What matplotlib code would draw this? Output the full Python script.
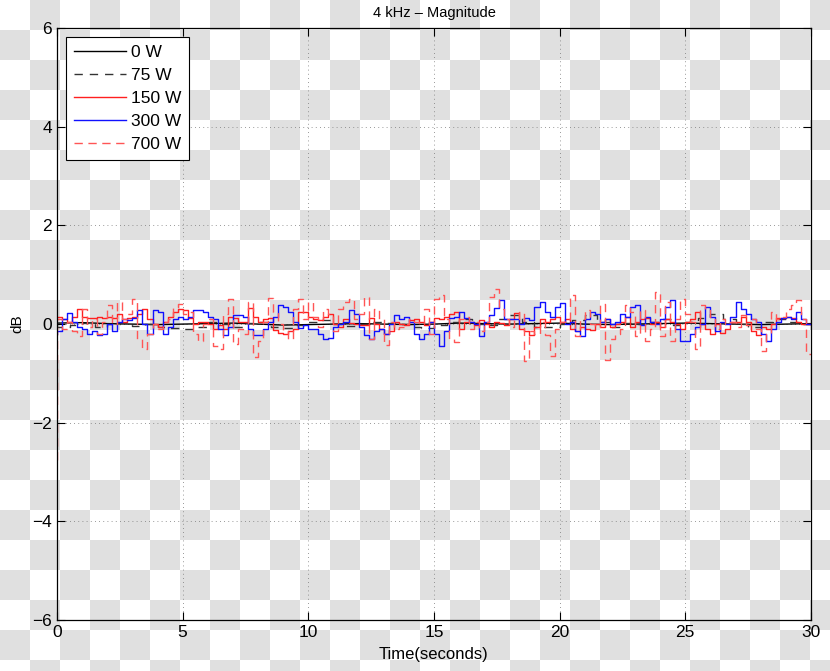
import numpy as np
import matplotlib
matplotlib.use("Agg")
import matplotlib.pyplot as plt

plt.rcParams['font.family'] = ['Liberation Sans', 'DejaVu Sans']

# time bases (seconds)
t_fine = np.round(np.arange(0, 30.01, 0.2), 2)    # 151 samples
t_half = np.round(np.arange(0, 30.01, 0.5), 2)    # 61 samples
t_one = np.arange(0, 31, 1.0)                     # 31 samples

# dB values
w0 = [0.02, 0.03, 0.01, 0.0, -0.01, 0.0, 0.01, 0.02, 0.0, -0.02, -0.01, 0.0, 0.01, 0.0, -0.01, 0.0,
      0.02, 0.01, 0.0, 0.01, 0.02, 0.0, -0.01, 0.0, 0.01, 0.02, 0.01, 0.0, -0.01, 0.0, 0.01]

w75 = [0.0, -0.05, -0.02, 0.03, -0.05, 0.0, 0.02, -0.03, 0.0, -0.05, -0.08, -0.1, -0.05, 0.05, 0.0, -0.05,
       0.02, 0.05, -0.05, -0.08, -0.02, 0.05, 0.08, 0.0, -0.03, 0.0, 0.05, 0.03, 0.0, -0.05, -0.08,
       -0.02, 0.05, 0.1, 0.0, -0.02, 0.1, 0.18, 0.05, -0.05, -0.05, 0.0, 0.08, 0.18, 0.05, -0.05,
       0.02, 0.0, 0.05, 0.1, -0.02, 0.05, 0.12, 0.2, 0.1, 0.0, -0.05, 0.05, 0.1, 0.05, 0.0]

w150 = [0.15, 0.15, 0.1, 0.05, 0.15, 0.3, 0.15, 0.12, 0.12, 0.15, 0.12, 0.15, 0.12, 0.2, 0.05, 0.12,
        0.15, 0.2, 0.3, 0.1, 0.0, -0.05, 0.05, 0.15, 0.25, 0.3,
        0.28, 0.12, 0.0, 0.05, 0.05, 0.0, -0.1, -0.02, -0.1, 0.15, 0.12, 0.05, 0.05, 0.32, 0.15,
        0.05, 0.1, 0.12, -0.12, -0.19, -0.2, -0.15, -0.1, 0.25, 0.25,
        0.15, 0.1, 0.08, 0.15, 0.2, 0.0, -0.05, 0.1, 0.02, 0.0, -0.02, -0.02, 0.12, 0.0, -0.1,
        -0.2, -0.15, 0.05, 0.0, -0.02, 0.08, 0.1, 0.05, -0.02, 0.05,
        0.12, 0.1, 0.15, 0.2, 0.25, -0.1, 0.05, 0.05, -0.02, 0.08, 0.0, -0.05, 0.05, 0.02, -0.02,
        0.1, 0.22, -0.1, -0.15, -0.22, -0.05, 0.1, 0.05, 0.1, 0.15,
        0.05, 0.1, -0.1, -0.15, -0.05, -0.1, -0.12, 0.0, -0.05, 0.1, -0.05, 0.0, 0.05, 0.15, -0.05,
        0.05, 0.1, 0.12, 0.0, 0.05, -0.05, 0.1, 0.05, 0.0, -0.1,
        0.05, 0.1, 0.25, 0.0, -0.1, -0.2, 0.0, -0.18, -0.1, 0.05, 0.05, 0.15, 0.05, -0.15, -0.22,
        -0.05, -0.1, 0.0, 0.12, 0.12, 0.15, 0.12, 0.05, 0.0, 0.0]

w300 = [-0.2, -0.15, 0.1, 0.22, 0.05, -0.05, -0.1, -0.2, -0.15, -0.22, -0.2, 0.0, -0.15, 0.05, 0.1,
        0.08, 0.12, 0.28, 0.0, -0.2, 0.28, 0.25, -0.2, -0.05, 0.1, 0.15,
        0.1, 0.15, 0.28, 0.28, 0.25, 0.15, 0.1, -0.1, -0.22, -0.05, 0.18, 0.18, 0.15, -0.1, -0.22,
        -0.22, -0.1, 0.05, 0.15, 0.38, 0.35, 0.25, 0.05, -0.08, -0.02,
        -0.1, -0.1, -0.2, -0.3, -0.28, -0.05, 0.0, 0.05, 0.28, 0.2, -0.05, -0.22, -0.3, -0.15, -0.1,
        -0.2, 0.0, 0.18, 0.1, 0.15, 0.05, -0.2, -0.3, -0.2, 0.05,
        -0.2, -0.45, -0.15, 0.12, 0.15, 0.25, 0.12, 0.05, 0.0, -0.25, 0.05, 0.18, 0.32, 0.48, 0.1,
        0.1, 0.1, 0.0, 0.12, 0.08, 0.35, 0.45, 0.25, 0.15, 0.35,
        0.42, 0.0, 0.05, -0.15, -0.25, 0.1, 0.25, 0.2, 0.05, 0.1, 0.0, 0.05, 0.2, 0.15, 0.35,
        0.38, -0.02, 0.15, 0.05, 0.0, 0.1, 0.35, 0.48, -0.1, -0.35,
        -0.35, -0.2, -0.05, 0.0, 0.35, 0.15, -0.15, 0.05, 0.0, 0.15, 0.45, 0.3, 0.2, 0.1, 0.05,
        -0.2, -0.35, -0.1, 0.05, 0.12, 0.15, 0.1, 0.25, 0.1, 0.0]

w700 = [-2.75, 0.1, -0.1, 0.05, -0.15, -0.25, 0.3, -0.05, 0.1, -0.2, 0.05, 0.38, 0.0, 0.45, 0.1,
        0.2, 0.5, -0.3, -0.5, -0.2, 0.0, -0.1, 0.05, 0.1, 0.35, 0.4,
        0.2, 0.25, -0.2, -0.35, 0.0, 0.1, -0.45, -0.5, 0.2, 0.5, -0.4, -0.1, -0.2, 0.45, -0.66,
        -0.35, 0.05, 0.52, 0.25, 0.0, -0.15, -0.3, 0.3, 0.5, 0.1,
        0.45, 0.15, -0.05, 0.3, 0.2, -0.15, 0.3, 0.45, 0.5, 0.1, 0.2, 0.55, -0.3, 0.3, 0.1,
        -0.43, 0.05, -0.1, -0.05, 0.0, 0.1, 0.05, 0.0, 0.3, -0.2,
        0.5, 0.6, 0.1, -0.3, -0.36, 0.1, 0.15, -0.1, 0.05, -0.15, 0.05, 0.55, 0.72, 0.3, 0.1,
        -0.05, 0.1, 0.25, -0.75, -0.15, -0.2, 0.05, -0.22, -0.65, -0.1,
        0.05, 0.1, 0.58, -0.25, 0.1, 0.28, 0.0, -0.05, 0.4, -0.72, -0.3, -0.2, -0.1, 0.38, 0.25,
        -0.25, 0.28, -0.35, -0.1, 0.65, -0.25, 0.45, -0.35, 0.1, 0.5,
        0.2, 0.05, -0.5, 0.38, 0.3, 0.15, -0.1, 0.1, 0.0, 0.05, -0.05, 0.18, -0.02, 0.1, -0.1,
        -0.55, -0.2, 0.25, 0.1, 0.15, 0.3, 0.38, 0.48, 0.1, -0.6]

fig = plt.figure(figsize=(8.3, 6.71), dpi=100)

# checkered "transparent" backdrop seen in the reference
yy, xx = np.mgrid[0:671, 0:830]
checker = np.where(((yy // 30) + (xx // 30)) % 2 == 0, 1.0, 0.88)
fig.figimage(np.dstack([checker] * 3), xo=0, yo=0, origin='upper', zorder=-5)

ax = fig.add_axes([0.0687, 0.076, 0.9083, 0.882])
ax.set_facecolor('none')
ax.set_zorder(2)

ax.plot(t_one, w0, color='black', lw=1.0, label='0 W')
ax.plot(t_half, w75, color='#333333', lw=1.0, ls=(0, (6, 5)), label='75 W', drawstyle='steps-pre')
ax.plot(t_fine, w150, color='#ff2020', lw=1.0, label='150 W', drawstyle='steps-pre')
ax.plot(t_fine, w300, color='#1010ff', lw=1.0, label='300 W', drawstyle='steps-pre')
ax.plot(t_fine, w700, color='#ff5555', lw=1.0, ls=(0, (6, 4)), label='700 W', drawstyle='steps-pre')

ax.set_xlim(0, 30)
ax.set_ylim(-6, 6)
ax.set_xticks([0, 5, 10, 15, 20, 25, 30])
ax.set_yticks([-6, -4, -2, 0, 2, 4, 6])
ax.grid(True, color='#777777', ls=(0, (1, 4)), lw=0.6)
ax.tick_params(direction='in', top=True, right=True, length=6, width=0.8, labelsize=12.5)
for s in ax.spines.values():
    s.set_linewidth(0.9)

ax.set_title('4 kHz \u2013 Magnitude', fontsize=10.5, pad=8)
ax.set_xlabel('Time(seconds)', fontsize=12, labelpad=5)
ax.set_ylabel('dB', fontsize=11, labelpad=6)

leg = ax.legend(loc='upper left', fontsize=12.5, handlelength=3.0, labelspacing=0.45,
                borderaxespad=0.5, handletextpad=0.3, fancybox=False, framealpha=1,
                edgecolor='black', borderpad=0.45)
leg.get_frame().set_linewidth(0.8)

fig.savefig('out.png', dpi=100)
